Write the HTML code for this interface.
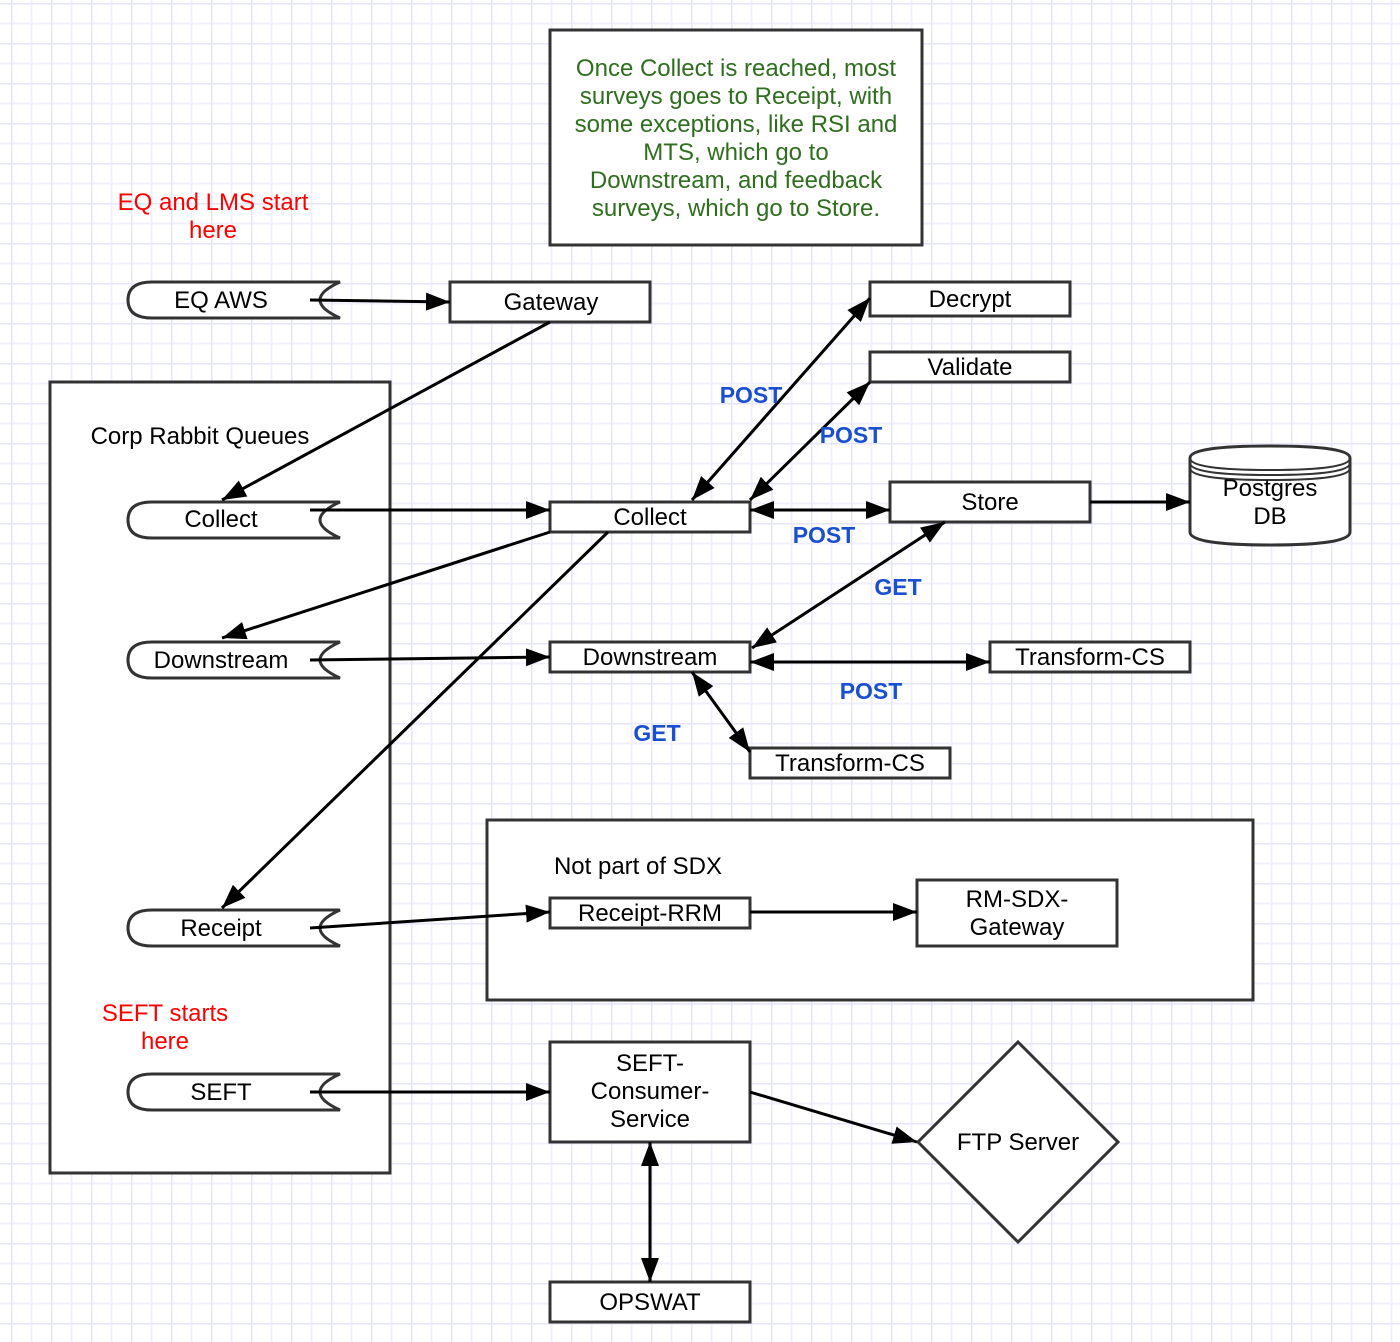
<!DOCTYPE html>
<html><head><meta charset="utf-8"><style>
html,body{margin:0;padding:0;background:#fff}
svg{display:block}
text{font-family:"Liberation Sans",sans-serif}
</style></head><body>
<svg width="1400" height="1342" viewBox="0 0 1400 1342" xmlns="http://www.w3.org/2000/svg">
<defs>
<pattern id="g" x="11" y="3" width="40" height="40" patternUnits="userSpaceOnUse">
<path d="M0.5 0V40M20.5 0V40" stroke="#f0f0fd" stroke-width="2"/>
<path d="M0 0.5H40M0 20.5H40" stroke="#f0f0fd" stroke-width="2"/>
<path d="M0.5 0V40M0 0.5H40" stroke="#e6e6fb" stroke-width="2"/>
</pattern>
<marker id="h" viewBox="0 0 24 18" refX="24" refY="9" markerWidth="24" markerHeight="18" markerUnits="userSpaceOnUse" orient="auto-start-reverse">
<path d="M0 0L24 9L0 18z" fill="#000"/>
</marker>
</defs>
<rect width="1400" height="1342" fill="url(#g)"/>

<g fill="#fff" stroke="#333" stroke-width="3">
<rect x="50" y="382" width="340" height="791"/>
<rect x="487" y="820" width="766" height="180"/>
<rect x="550" y="30" width="372" height="215"/>
<rect x="450" y="282" width="200" height="40"/>
<rect x="870" y="282" width="200" height="34"/>
<rect x="870" y="352" width="200" height="30"/>
<rect x="550" y="502" width="200" height="30"/>
<rect x="890" y="482" width="200" height="40"/>
<rect x="550" y="642" width="200" height="30"/>
<rect x="990" y="642" width="200" height="30"/>
<rect x="750" y="748" width="200" height="30"/>
<rect x="550" y="898" width="200" height="30"/>
<rect x="917" y="880" width="200" height="66"/>
<rect x="550" y="1042" width="200" height="100"/>
<rect x="550" y="1282" width="200" height="40"/>
<path d="M1018 1042L1118 1142L1018 1242L918 1142Z"/>
<path d="M1190 458 Q1190 446 1270 446 Q1350 446 1350 458 L1350 532 Q1350 545 1270 545 Q1190 545 1190 532 Z"/>
<path d="M1190 458 Q1190 470 1270 470 Q1350 470 1350 458 M1190 463 Q1190 475 1270 475 Q1350 475 1350 463 M1190 468 Q1190 480 1270 480 Q1350 480 1350 468" fill="none" stroke-width="2"/>
<path d="M152 282L340 282Q300 300 340 318L152 318Q128 318 128 300Q128 282 152 282Z"/>
<path d="M152 502L340 502Q300 520 340 538L152 538Q128 538 128 520Q128 502 152 502Z"/>
<path d="M152 642L340 642Q300 660 340 678L152 678Q128 678 128 660Q128 642 152 642Z"/>
<path d="M152 910L340 910Q300 928 340 946L152 946Q128 946 128 928Q128 910 152 910Z"/>
<path d="M152 1074L340 1074Q300 1092 340 1110L152 1110Q128 1110 128 1092Q128 1074 152 1074Z"/>
</g>

<g stroke="#000" stroke-width="3" fill="none">
<line x1="310" y1="300" x2="450" y2="302" marker-end="url(#h)"/>
<line x1="550" y1="322" x2="222" y2="500" marker-end="url(#h)"/>
<line x1="310" y1="510" x2="550" y2="510" marker-end="url(#h)"/>
<line x1="550" y1="532" x2="222" y2="638" marker-end="url(#h)"/>
<line x1="310" y1="660" x2="550" y2="657" marker-end="url(#h)"/>
<line x1="608" y1="532" x2="222" y2="908" marker-end="url(#h)"/>
<line x1="310" y1="928" x2="550" y2="912" marker-end="url(#h)"/>
<line x1="310" y1="1092" x2="550" y2="1092" marker-end="url(#h)"/>
<line x1="692" y1="500" x2="870" y2="298" marker-start="url(#h)" marker-end="url(#h)"/>
<line x1="750" y1="500" x2="870" y2="382" marker-start="url(#h)" marker-end="url(#h)"/>
<line x1="750" y1="510" x2="890" y2="510" marker-start="url(#h)" marker-end="url(#h)"/>
<line x1="1090" y1="502" x2="1190" y2="502" marker-end="url(#h)"/>
<line x1="945" y1="522" x2="752" y2="648" marker-start="url(#h)" marker-end="url(#h)"/>
<line x1="750" y1="662" x2="990" y2="662" marker-start="url(#h)" marker-end="url(#h)"/>
<line x1="692" y1="672" x2="750" y2="752" marker-start="url(#h)" marker-end="url(#h)"/>
<line x1="750" y1="912" x2="917" y2="912" marker-end="url(#h)"/>
<line x1="750" y1="1092" x2="917" y2="1142" marker-end="url(#h)"/>
<line x1="650" y1="1142" x2="650" y2="1282" marker-start="url(#h)" marker-end="url(#h)"/>
</g>

<g font-size="24" text-anchor="middle" fill="#000">
<text x="221" y="308">EQ AWS</text>
<text x="551" y="310">Gateway</text>
<text x="970" y="307">Decrypt</text>
<text x="970" y="375">Validate</text>
<text x="650" y="525">Collect</text>
<text x="990" y="510">Store</text>
<text x="1270" y="496">Postgres</text>
<text x="1270" y="524">DB</text>
<text x="221" y="527">Collect</text>
<text x="221" y="668">Downstream</text>
<text x="650" y="665">Downstream</text>
<text x="1090" y="665">Transform-CS</text>
<text x="850" y="771">Transform-CS</text>
<text x="221" y="936">Receipt</text>
<text x="650" y="921">Receipt-RRM</text>
<text x="1017" y="907">RM-SDX-</text>
<text x="1017" y="935">Gateway</text>
<text x="221" y="1100">SEFT</text>
<text x="650" y="1071">SEFT-</text>
<text x="650" y="1099">Consumer-</text>
<text x="650" y="1127">Service</text>
<text x="1018" y="1150">FTP Server</text>
<text x="650" y="1310">OPSWAT</text>
<text x="200" y="444">Corp Rabbit Queues</text>
<text x="638" y="874">Not part of SDX</text>
</g>
<g font-size="24" text-anchor="middle" fill="#f00">
<text x="213" y="210">EQ and LMS start</text>
<text x="213" y="238">here</text>
<text x="165" y="1021">SEFT starts</text>
<text x="165" y="1049">here</text>
</g>
<g font-size="24" text-anchor="middle" fill="#2e6e1e">
<text x="736" y="76">Once Collect is reached, most</text>
<text x="736" y="104">surveys goes to Receipt, with</text>
<text x="736" y="132">some exceptions, like RSI and</text>
<text x="736" y="160">MTS, which go to</text>
<text x="736" y="188">Downstream, and feedback</text>
<text x="736" y="216">surveys, which go to Store.</text>
</g>
<g font-size="23" font-weight="bold" text-anchor="middle" fill="#1a4fd0">
<text x="751" y="403">POST</text>
<text x="851" y="443">POST</text>
<text x="824" y="543">POST</text>
<text x="898" y="595">GET</text>
<text x="871" y="699">POST</text>
<text x="657" y="741">GET</text>
</g>
</svg>
</body></html>
